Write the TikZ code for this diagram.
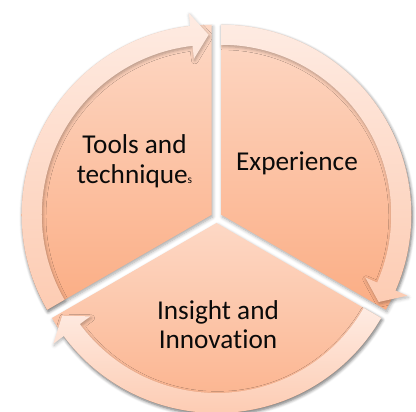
\documentclass[tikz,border=0pt]{standalone}
\usepackage{fontspec}
\setmainfont{Carlito}[Ligatures=NoCommon]
\usepackage{xcolor}
\usetikzlibrary{shadows.blur}

\definecolor{segtop}{HTML}{FDD8C5}
\definecolor{segbot}{HTML}{FBAD84}
\definecolor{bandtop}{HTML}{FEEBE2}
\definecolor{bandbot}{HTML}{FDCCB3}
\definecolor{textgray}{HTML}{0A0A0A}

\begin{document}
\begin{tikzpicture}[x=0.02cm, y=0.02cm,
    segment/.style={top color=segtop, bottom color=segbot, draw=none,
        blur shadow={shadow xshift=0.6pt, shadow yshift=-1.2pt,
                     shadow blur steps=6, shadow opacity=35}},
    band/.style={top color=bandtop, bottom color=bandbot, draw=none,
        blur shadow={shadow xshift=0.5pt, shadow yshift=-1pt,
                     shadow blur steps=5, shadow opacity=30}},
    segtext/.style={align=center, text=textgray,
        font=\fontsize{15.5}{16.8}\selectfont}]
    \useasboundingbox (-216.5,-194.5) rectangle (199.5,217.5);

    % exploded segments: bisector / start / end angle
    \foreach \mid/\from/\to in {150/210/90, 30/90/-30, -90/-30/-150} {
        \begin{scope}[shift={(\mid:5.5)}]
            \path[segment] (0,0) -- (\to:190)
                arc[start angle=\to, end angle=\from, radius=190] -- cycle;
            \path[band] (\from:190)
                arc[start angle=\from, end angle=\to+6.5, radius=190]
                -- (\to+6.5:203) -- (\to+1:180) -- (\to+6.5:157)
                -- (\to+6.5:170)
                arc[start angle=\to+6.5, end angle=\from, radius=170] -- cycle;
        \end{scope}
    }

    \node[segtext] (tools) at (-82,56) {Tools and\\technique{\fontsize{6.5}{6.5}\selectfont s}};
    \node[segtext] (experience) at (80.5,54.5) {Experience};
    \node[segtext] (insight) at (1.5,-107) {Insight and\\Innovation};
\end{tikzpicture}
\end{document}
